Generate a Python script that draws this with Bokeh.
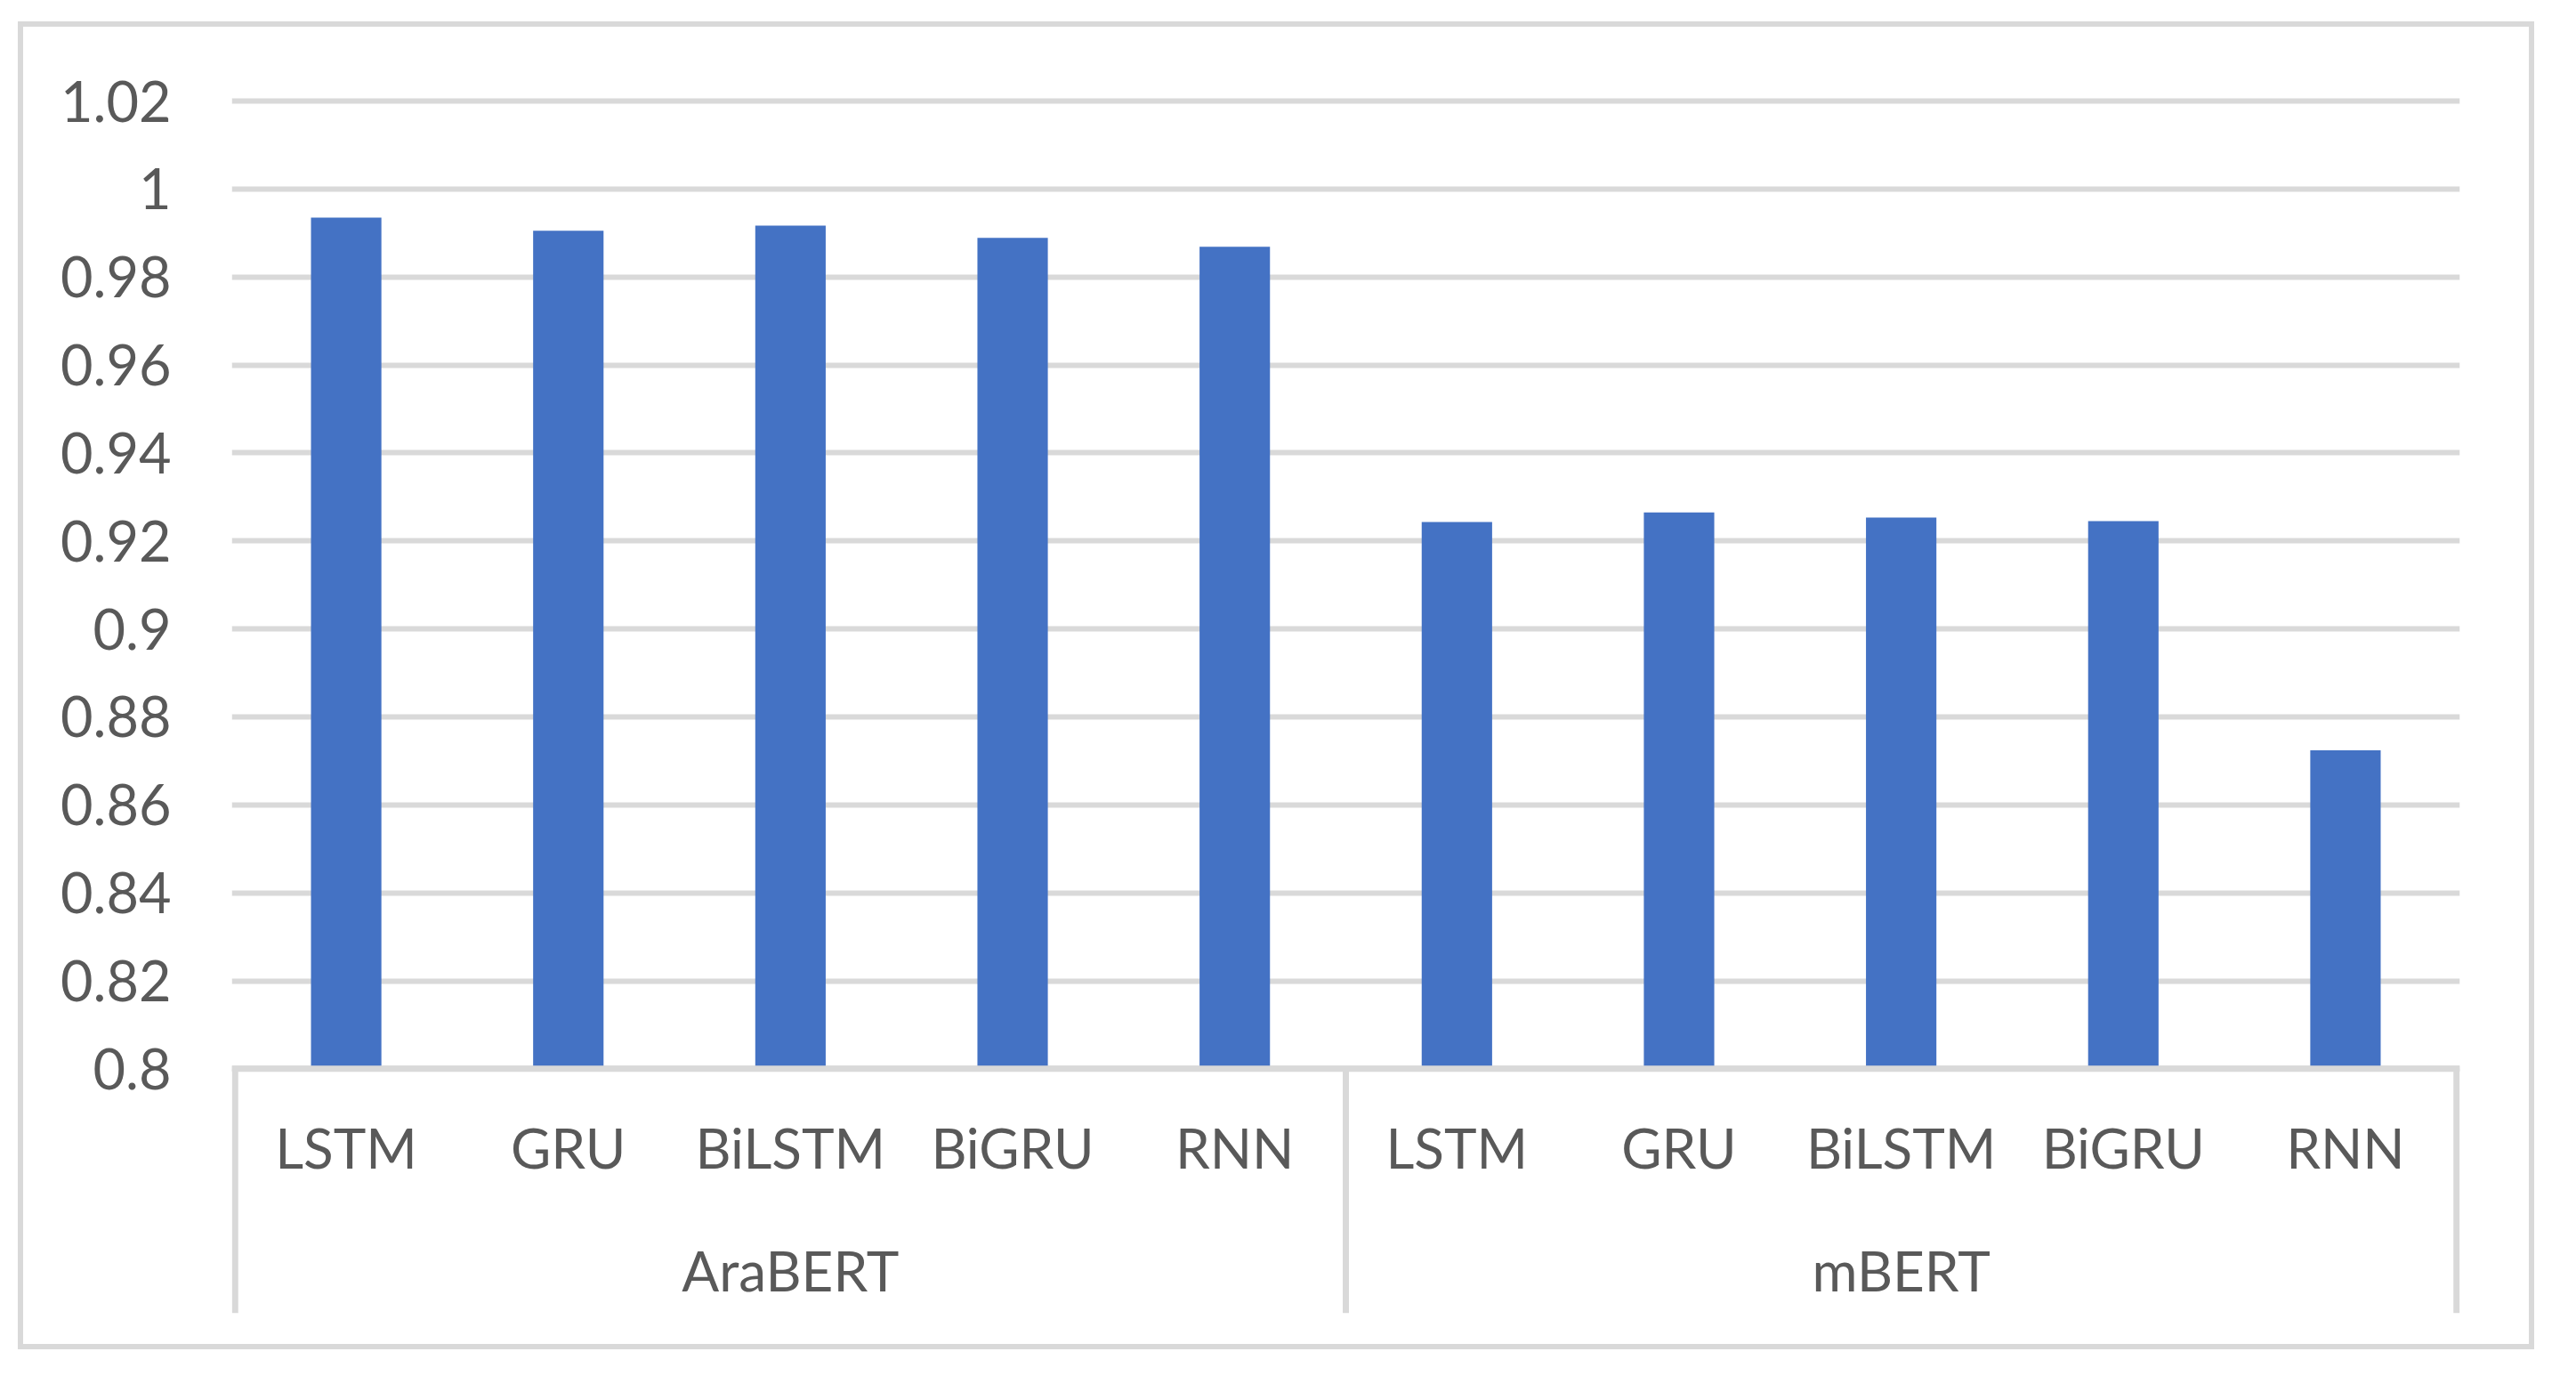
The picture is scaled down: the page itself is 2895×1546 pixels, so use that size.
from bokeh.plotting import figure
from bokeh.models import (FactorRange, Range1d, FixedTicker, ColumnDataSource, Span)
from bokeh.core.properties import value
from bokeh.embed import file_html
from bokeh.resources import INLINE

# ---------------- data ----------------
groups = ["AraBERT", "mBERT"]
models = ["LSTM", "GRU", "BiLSTM", "BiGRU", "RNN"]
arabert_scores = [0.9935, 0.9905, 0.9917, 0.9889, 0.9869]
mbert_scores = [0.9243, 0.9265, 0.9253, 0.9245, 0.8724]
y_ticks = [0.8, 0.82, 0.84, 0.86, 0.88, 0.9, 0.92, 0.94, 0.96, 0.98, 1.0, 1.02]
y_tick_labels = ["0.8", "0.82", "0.84", "0.86", "0.88", "0.9", "0.92", "0.94",
                 "0.96", "0.98", "1", "1.02"]

# ---------------- styling ----------------
BAR = "#4472C4"
GRID = "#D9D9D9"
TXT = "#595959"
FONT = "Lato"
FS = "62px"

factors = [(g, m) for g in groups for m in models]
scores = arabert_scores + mbert_scores
base = y_ticks[0]

y_start, y_end = 0.744433, 1.034777

p = figure(width=2816, height=1480,
           x_range=FactorRange(*factors, group_padding=0, factor_padding=0,
                               subgroup_padding=0, range_padding=0.015,
                               range_padding_units="absolute"),
           y_range=Range1d(y_start, y_end),
           output_backend="svg", toolbar_location=None,
           min_border_left=234, min_border_right=90,
           min_border_top=10, min_border_bottom=47)
p.outline_line_color = None
p.background_fill_color = "white"
p.border_fill_color = "white"
# chart-area border (light grey frame around the whole chart)
p.styles = {"margin-left": "20px", "margin-top": "24px",
            "border": "6px solid #D9D9D9", "box-sizing": "content-box"}

# y axis
p.yaxis.ticker = FixedTicker(ticks=y_ticks)
p.yaxis.major_label_overrides = dict(zip(y_ticks, y_tick_labels))
p.yaxis.axis_line_color = None
p.yaxis.major_tick_line_color = None
p.yaxis.minor_tick_line_color = None
p.yaxis.major_label_standoff = 62
p.yaxis.major_label_text_font = FONT
p.yaxis.major_label_text_font_size = "63px"
p.yaxis.major_label_text_color = TXT
p.xaxis.visible = False

p.xgrid.visible = False
p.ygrid.ticker = FixedTicker(ticks=y_ticks)
p.ygrid.grid_line_color = GRID
p.ygrid.grid_line_width = 6

# bars
src = ColumnDataSource(dict(x=factors, top=scores))
p.vbar(x="x", top="top", bottom=base, width=0.317, source=src,
       fill_color=BAR, line_color=None)

# category axis line
p.add_layout(Span(location=base, dimension="width", line_color=GRID, line_width=7))

# separators at group boundaries
sep_x = []
for g in groups:
    sep_x.append((g, models[0], -0.5))
sep_x.append((groups[-1], models[-1], 0.5))
sep = ColumnDataSource(dict(x=sep_x))
p.segment(x0="x", y0=base, x1="x", y1=y_start, source=sep,
          line_color=GRID, line_width=7, line_cap="butt")

# category labels
lab = ColumnDataSource(dict(x=factors, text=[f[1] for f in factors]))
p.text(x="x", y=base, text="text", source=lab, y_offset=88.5,
       text_align="center", text_baseline="alphabetic",
       text_font=value(FONT), text_font_size=FS, text_color=TXT)
glab = ColumnDataSource(dict(x=groups, text=groups))
p.text(x="x", y=base, text="text", source=glab, y_offset=226.5,
       text_align="center", text_baseline="alphabetic",
       text_font=value(FONT), text_font_size=FS, text_color=TXT)

open("out.html", "w").write(file_html(p, INLINE))
